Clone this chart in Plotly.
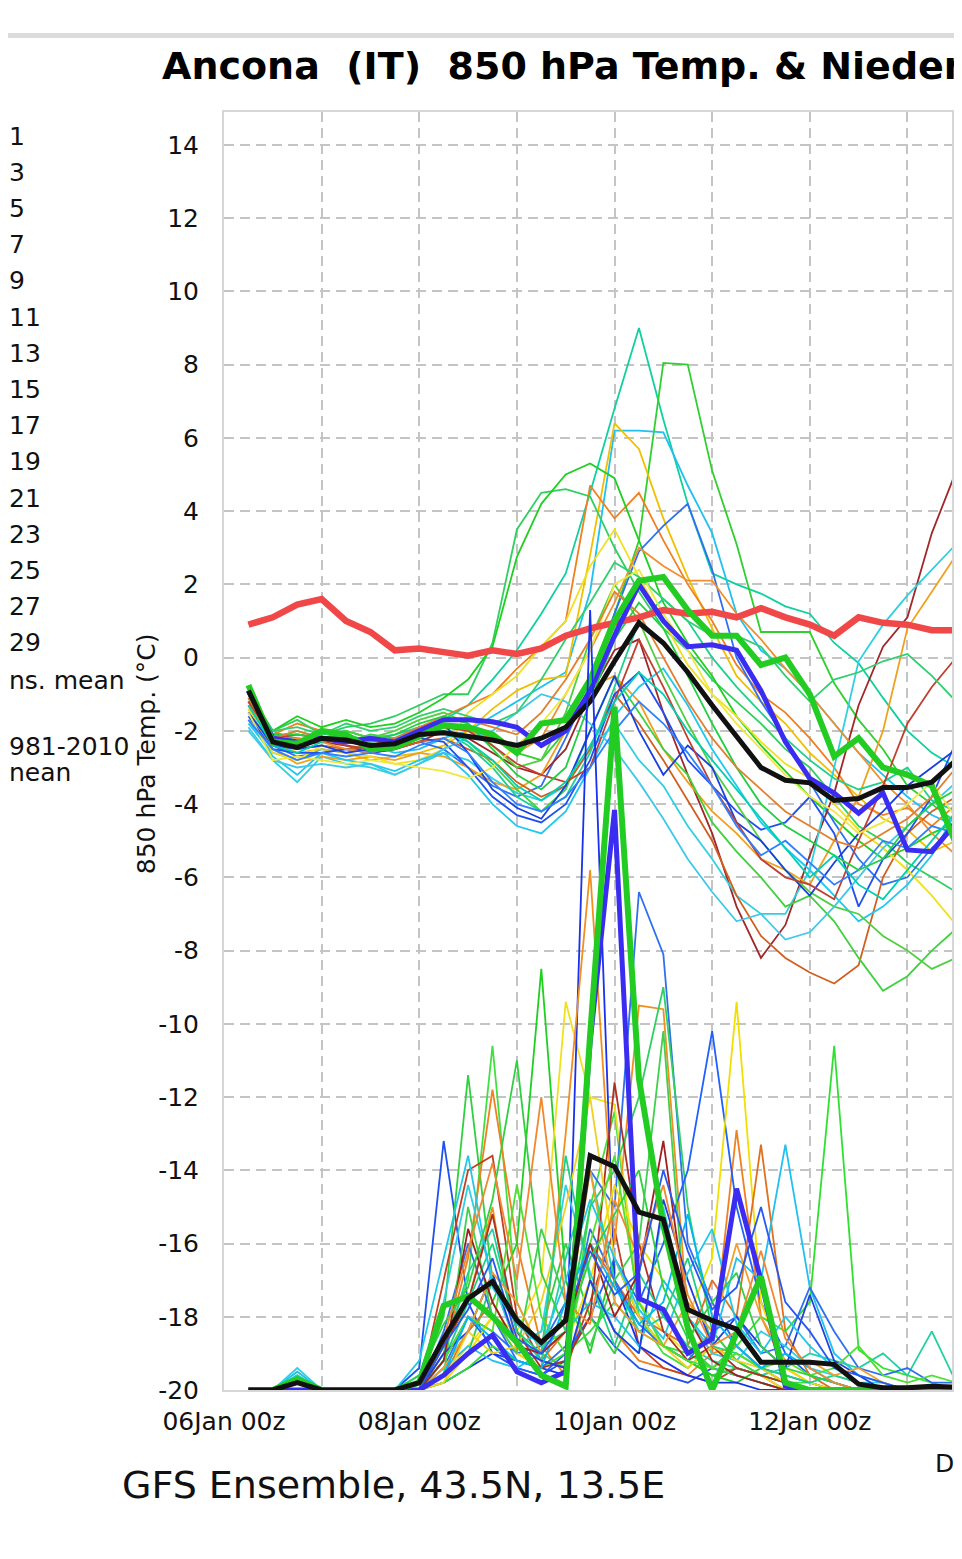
import pandas as pd
import plotly.graph_objects as go

# 6-hourly forecast steps, 06Jan 06z .. 13Jan 18z
times = pd.date_range('2021-01-06 06:00', periods=31, freq='6h')

# 850 hPa temperature (°C)
t_clim = [0.9, 1.1, 1.45, 1.6, 1.0, 0.7, 0.2, 0.25, 0.15, 0.05, 0.2, 0.1, 0.25, 0.6, 0.8, 0.95,
          1.1, 1.3, 1.2, 1.25, 1.1, 1.35, 1.1, 0.9, 0.6, 1.1, 0.95, 0.9, 0.75, 0.75, 0.7]
t_mean = [-0.9, -2.3, -2.45, -2.2, -2.25, -2.4, -2.35, -2.1, -2.05, -2.15, -2.25, -2.4, -2.2, -1.9, -1.2, -0.1,
          0.95, 0.4, -0.4, -1.3, -2.17, -3.0, -3.35, -3.42, -3.9, -3.85, -3.55, -3.55, -3.4, -2.8, -2.3]
t_oper = [-0.9, -2.2, -2.3, -2.2, -2.3, -2.2, -2.3, -2.0, -1.7, -1.7, -1.75, -1.9, -2.4, -2.0, -0.9, 0.6,
          2.0, 1.0, 0.3, 0.35, 0.2, -0.9, -2.3, -3.3, -3.7, -4.25, -3.7, -5.25, -5.3, -4.5, -3.8]
t_ctrl = [-0.75, -2.3, -2.35, -2.0, -2.1, -2.5, -2.45, -2.15, -1.85, -1.9, -2.1, -2.6, -1.8, -1.7, -0.6, 1.0,
          2.1, 2.2, 1.3, 0.6, 0.6, -0.2, 0.0, -1.0, -2.7, -2.2, -3.0, -3.2, -3.5, -5.1, -5.3]

t01 = [-1.2, -2.0, -2.3, -2.1, -2.0, -2.2, -2.1, -1.9, -1.7, -1.3, -0.6, 0.2, 1.2, 2.3, 4.5, 6.8,
       9.0, 6.5, 4.2, 2.3, 2.0, 1.75, 1.4, 1.2, 0.4, -0.15, -1.1, -2.0, -2.6, -3.0, -3.2]
t02 = [-1.0, -2.1, -2.2, -2.3, -2.0, -2.2, -2.3, -2.0, -1.8, -1.9, -2.2, -2.6, -2.8, -2.0, -0.5, 1.2,
       3.2, 8.05, 8.0, 5.1, 3.1, 0.7, 0.7, 0.7, -0.7, -1.7, -2.5, -3.5, -4.0, -4.5, -4.8]
t03 = [-1.8, -2.6, -2.8, -2.5, -2.6, -2.4, -2.6, -2.5, -2.2, -2.0, -1.6, -1.2, -0.8, -0.4, 1.8, 6.2,
       6.2, 6.15, 4.7, 3.4, 1.2, 0.2, -0.3, -1.0, -1.8, -2.6, -3.2, -3.8, -4.3, -4.6, -4.5]
t04 = [-1.3, -2.3, -2.6, -2.5, -2.6, -2.8, -2.7, -2.6, -2.4, -2.0, -1.4, -0.9, -0.6, -0.5, 2.8, 6.4,
       5.7, 3.8, 2.2, 0.8, -0.5, -1.2, -1.8, -2.6, -3.2, -3.8, -4.4, -4.7, -5.3, -5.0, -4.8]
t05 = [-1.0, -2.1, -1.8, -2.0, -2.2, -2.4, -2.3, -1.9, -1.6, -1.3, -1.0, -0.3, 0.3, 1.0, 4.7, 3.8,
       4.5, 3.2, 2.0, 1.0, -0.2, -1.0, -1.5, -2.2, -3.0, -4.0, -4.3, -4.1, -4.6, -4.0, -3.6]
t06 = [-1.1, -2.0, -1.7, -2.1, -1.9, -1.8, -1.6, -1.3, -1.0, -1.0, 0.4, 3.5, 4.5, 4.6, 4.4, 3.0,
       1.8, 0.8, 0.2, -0.6, -1.2, -1.8, -2.5, -3.0, -3.8, -4.6, -5.0, -5.6, -6.0, -6.4, -6.6]
t07 = [-0.9, -2.0, -1.6, -1.9, -1.7, -1.9, -1.8, -1.5, -1.1, -0.6, 0.3, 2.75, 4.2, 5.0, 5.3, 4.9,
       3.2, 1.5, 0.4, -0.5, -1.6, -2.4, -3.1, -3.8, -4.4, -5.0, -5.5, -5.2, -4.8, -4.5, -4.2]
t08 = [-1.5, -2.4, -2.7, -2.6, -2.5, -2.6, -2.5, -2.3, -2.5, -3.0, -3.5, -3.8, -3.5, -2.2, -0.8, 1.2,
       2.9, 3.6, 4.2, 2.4, 0.0, -1.2, -2.2, -3.4, -4.5, -5.5, -6.2, -6.0, -5.2, -4.6, -4.0]
t09 = [-1.2, -2.2, -2.4, -2.3, -2.4, -2.6, -2.5, -2.3, -2.0, -2.2, -2.6, -3.0, -3.2, -2.5, -1.0, 0.2,
       0.5, -1.5, -3.2, -4.8, -6.8, -8.2, -7.3, -5.4, -3.7, -1.3, 0.3, 1.1, 3.4, 5.1, 5.3]
t10 = [-1.9, -2.8, -3.4, -2.7, -2.9, -3.0, -3.2, -2.9, -2.6, -2.8, -3.3, -3.7, -3.9, -3.5, -2.5, -1.8,
       -2.8, -3.5, -4.6, -5.5, -6.5, -7.0, -7.0, -5.8, -3.0, -0.1, 0.9, 1.7, 2.4, 3.1, 3.0]
t11 = [-1.4, -2.5, -2.9, -2.7, -2.8, -2.7, -2.8, -2.6, -2.7, -3.0, -3.4, -3.6, -3.2, -2.0, -0.8, -0.5,
       -1.2, -2.5, -3.4, -4.2, -4.8, -5.5, -5.8, -6.2, -5.0, -3.8, -2.0, 0.8, 1.8, 2.8, 2.9]
t12 = [-1.3, -2.3, -2.5, -2.4, -2.5, -2.4, -2.5, -2.3, -2.2, -2.5, -2.8, -3.4, -3.8, -3.5, -2.5, -1.0,
       -1.8, -2.8, -3.9, -5.0, -6.5, -7.6, -8.2, -8.6, -8.9, -8.4, -6.0, -4.8, -4.2, -3.8, -3.6]
t13 = [-1.1, -2.2, -2.0, -2.2, -2.3, -2.1, -2.2, -2.0, -1.9, -2.3, -2.9, -3.6, -4.2, -3.6, -2.0, -0.5,
       -1.5, -2.5, -3.2, -4.5, -5.3, -6.0, -6.8, -6.5, -7.2, -8.2, -9.1, -8.7, -8.0, -7.4, -7.0]
t14 = [-1.4, -2.6, -2.8, -2.4, -2.6, -2.7, -2.9, -2.8, -2.5, -1.5, -1.0, -0.5, 0.3, 1.0, 2.5, 3.5,
       2.2, 1.0, -0.2, -1.0, -1.6, -2.3, -2.9, -3.3, -4.0, -4.7, -5.2, -5.8, -6.5, -7.3, -7.5]
t15 = [-1.6, -2.5, -2.6, -2.6, -2.5, -2.6, -2.5, -2.2, -2.3, -3.0, -3.8, -4.3, -4.5, -4.0, -2.8, -1.0,
       -0.4, -1.5, -2.8, -3.5, -4.2, -4.7, -4.5, -3.8, -4.8, -6.8, -5.5, -4.8, -3.8, -2.3, -1.8]
t16 = [-1.7, -2.7, -3.2, -2.6, -2.8, -2.9, -3.1, -2.8, -2.6, -3.2, -4.0, -4.6, -4.8, -4.2, -3.0, -1.6,
       -0.8, -0.3, -1.3, -2.5, -3.5, -4.5, -5.2, -5.8, -6.5, -7.2, -6.8, -6.2, -5.4, -4.2, -3.8]
t17 = [-1.0, -2.2, -2.5, -2.2, -2.1, -2.3, -2.2, -1.9, -2.0, -2.4, -3.0, -3.8, -4.2, -3.8, -2.6, -0.8,
       1.0, 1.6, 1.0, 0.0, -0.8, -1.5, -2.2, -2.8, -3.3, -3.6, -3.4, -3.0, -3.9, -4.2, -4.4]
t18 = [-1.2, -2.4, -2.2, -2.3, -2.5, -2.6, -2.4, -2.1, -1.9, -2.0, -2.2, -2.6, -2.2, -1.0, 0.2, 1.5,
       3.0, 2.5, 2.1, 2.1, 1.2, 0.5, -0.3, -1.0, -1.8, -2.6, -3.4, -4.0, -4.8, -5.4, -5.6]
t19 = [-1.3, -2.3, -2.4, -2.2, -2.0, -2.2, -2.0, -1.7, -1.5, -1.8, -2.4, -3.0, -2.8, -1.5, 0.5, 2.0,
       1.0, -0.5, -1.8, -3.0, -4.0, -5.0, -5.8, -6.4, -6.8, -7.0, -7.6, -8.0, -8.5, -8.2, -7.8]
t20 = [-1.5, -2.4, -2.5, -2.4, -2.6, -2.5, -2.4, -2.0, -1.8, -2.6, -3.6, -4.1, -4.4, -3.5, -2.0, -0.5,
       -2.0, -3.2, -2.4, -3.0, -4.5, -5.0, -5.8, -6.5, -5.6, -4.8, -4.2, -3.5, -3.0, -2.5, -2.2]
t21 = [-1.2, -2.2, -2.1, -2.2, -2.4, -2.5, -2.3, -2.1, -1.9, -2.0, -2.4, -2.9, -3.2, -3.4, -3.0, -1.2,
       0.5, -0.8, -2.2, -3.5, -4.5, -5.5, -6.0, -6.2, -6.6, -5.0, -3.5, -1.8, -0.8, 0.0, 0.4]
t22 = [-2.0, -2.8, -3.0, -2.9, -3.0, -2.9, -3.2, -2.9, -2.5, -2.2, -2.0, -1.5, -1.0, -1.2, -1.8, -2.5,
       -3.4, -4.4, -5.5, -6.4, -7.2, -7.0, -7.7, -7.5, -6.8, -6.0, -5.2, -4.6, -4.0, -3.4, -3.0]
t23 = [-1.0, -2.0, -1.9, -2.1, -1.8, -2.0, -1.9, -1.6, -1.4, -1.6, -1.8, -1.5, -0.6, 0.5, 1.5, 2.6,
       2.2, 1.6, 1.0, 0.6, 0.6, 0.3, -0.5, -1.2, -0.6, -0.4, -0.1, 0.1, -0.5, -1.2, -1.5]
t24 = [-1.5, -2.8, -2.7, -2.8, -2.9, -2.8, -2.9, -3.0, -3.1, -3.3, -3.0, -2.4, -1.8, -1.0, 0.2, 2.0,
       2.4, 1.2, 0.2, -1.0, -1.8, -2.5, -3.2, -3.8, -4.2, -4.8, -4.5, -4.0, -3.4, -4.4, -5.0]
t25 = [-1.7, -2.5, -2.8, -2.6, -2.7, -2.6, -2.7, -2.4, -2.2, -2.6, -3.4, -4.0, -4.2, -3.8, -3.0, -2.0,
       -1.2, -1.8, -2.6, -3.5, -4.6, -5.4, -5.0, -5.6, -6.2, -5.8, -5.0, -5.2, -4.6, -4.8, -4.5]
t26 = [-1.1, -2.1, -2.1, -2.2, -2.1, -2.3, -2.1, -1.8, -1.6, -1.8, -2.5, -3.2, -3.6, -3.0, -1.2, 0.5,
       1.5, 0.8, -0.5, -1.8, -3.0, -4.0, -4.6, -5.0, -5.4, -5.8, -5.5, -4.6, -4.0, -3.6, -3.4]
t27 = [-1.3, -2.4, -2.6, -2.3, -2.2, -2.4, -2.3, -2.1, -2.0, -2.3, -2.8, -3.5, -3.9, -3.4, -2.4, -1.2,
       -0.4, -1.0, -2.0, -2.8, -3.6, -4.4, -5.2, -6.0, -5.4, -6.2, -6.6, -5.8, -5.0, -4.2, -3.8]
t28 = [-1.1, -2.2, -2.0, -2.2, -2.3, -2.4, -2.2, -1.9, -1.7, -1.7, -1.9, -2.1, -1.5, -0.6, 0.5, 1.8,
       1.2, 0.0, -1.2, -2.2, -3.0, -3.6, -4.2, -4.6, -5.0, -5.2, -4.8, -4.4, -3.8, -3.0, -2.6]

temp_members = [t01, t02, t03, t04, t05, t06, t07, t08, t09, t10, t11, t12, t13, t14,
                t15, t16, t17, t18, t19, t20, t21, t22, t23, t24, t25, t26, t27, t28]
temp_colors = ['#10d0a0', '#30d030', '#20c0f0', '#f0c000', '#f08020', '#30d060', '#20d020',
               '#3070f0', '#a02828', '#30d0e0', '#f0a020', '#d06020', '#40d040', '#f0e020',
               '#2050f0', '#20c8f0', '#20d090', '#f09030', '#50d040', '#1840e0', '#c04030',
               '#40c8e8', '#30d070', '#f0e840', '#3080ff', '#20d040', '#00d0b0', '#e08030']

# Niederschlag (mm / 6h)
p_mean = [0, 0, 0.1, 0, 0, 0, 0, 0.1, 0.7, 1.25, 1.48, 0.95, 0.65, 0.95, 3.2, 3.05,
          2.43, 2.33, 1.1, 0.95, 0.83, 0.38, 0.38, 0.38, 0.35, 0.08, 0.03, 0.03, 0.05, 0.03, 0.03]
p_ctrl = [0, 0, 0.15, 0, 0, 0, 0, 0.1, 1.15, 1.28, 1.0, 0.65, 0.2, 0.05, 4.85, 9.33,
          4.25, 2.25, 0.85, 0, 0.75, 1.55, 0.1, 0, 0, 0, 0, 0, 0, 0, 0]
p_oper = [0, 0, 0, 0, 0, 0, 0, 0, 0.2, 0.5, 0.75, 0.25, 0.1, 0.25, 4.75, 7.92,
          1.25, 1.1, 0.5, 0.7, 2.75, 1.5, 0.05, 0, 0, 0, 0, 0, 0, 0, 0]

p01 = [0, 0, 0.1, 0, 0, 0, 0, 0.3, 3.4, 1.2, 0.5, 0.3, 0.2, 0.4, 1.0, 0.6,
       0.3, 0.2, 0.1, 0.3, 0.2, 0.1, 0, 0, 0, 0, 0, 0, 0, 0, 0]
p02 = [0, 0, 0.2, 0, 0, 0, 0, 0.1, 1.0, 4.3, 1.5, 0.6, 0.8, 2.0, 1.0, 0.5,
       1.2, 0.6, 0.4, 0.2, 0.3, 0.2, 0.1, 0, 0, 0, 0, 0, 0, 0, 0]
p03 = [0, 0, 0.1, 0, 0, 0, 0, 0, 0.6, 1.5, 4.7, 1.2, 0.5, 0.3, 2.5, 3.8,
       1.0, 0.5, 0.3, 0.6, 0.4, 0.2, 0.1, 0.1, 0, 0, 0, 0, 0, 0, 0]
p04 = [0, 0, 0, 0, 0, 0, 0, 0, 0.5, 1.8, 4.1, 2.0, 0.6, 0.2, 1.5, 0.8,
       0.4, 0.3, 0.2, 0.5, 3.55, 1.0, 0.3, 0.1, 0, 0, 0, 0, 0, 0, 0]
p05 = [0, 0, 0, 0, 0, 0, 0, 0, 1.5, 3.0, 3.2, 1.0, 0.4, 0.3, 1.2, 2.2,
       0.6, 0.3, 0.2, 0.1, 0.3, 0.2, 0, 0, 0, 0, 0, 0, 0, 0, 0]
p06 = [0, 0, 0, 0, 0, 0, 0, 0, 0.3, 0.8, 1.2, 2.0, 5.75, 1.5, 0.5, 1.8,
       1.0, 0.6, 0.4, 0.2, 0.1, 0.3, 0.1, 0, 0, 0, 0, 0, 0, 0, 0]
p07 = [0, 0, 0, 0, 0, 0, 0, 0, 0.2, 0.6, 1.0, 0.8, 1.5, 5.3, 4.0, 3.9,
       1.2, 0.8, 0.5, 0.8, 0.4, 0.2, 0, 0, 0, 0, 0, 0, 0, 0, 0]
p08 = [0, 0, 0, 0, 0, 0, 0, 0, 0.1, 0.3, 0.5, 0.4, 0.3, 0.2, 10.65, 1.5,
       0.6, 0.4, 0.2, 0.1, 0.1, 0, 0, 0, 0, 0, 0, 0, 0, 0, 0]
p09 = [0, 0, 0, 0, 0, 0, 0, 0.1, 0.6, 1.2, 2.5, 0.5, 0.3, 3.5, 7.1, 2.0,
       5.25, 5.2, 1.0, 0.5, 0.6, 0.3, 0.1, 0, 0, 0, 0, 0, 0, 0, 0]
p10 = [0, 0, 0, 0, 0, 0, 0, 0, 0.3, 1.0, 0.8, 0.5, 0.6, 1.2, 3.0, 2.5,
       6.8, 5.95, 2.0, 1.2, 0.6, 0.3, 0.2, 0.1, 0, 0, 0, 0, 0, 0, 0]
p11 = [0, 0, 0.1, 0, 0, 0, 0, 0, 0.2, 0.5, 1.5, 1.0, 0.6, 0.8, 2.5, 3.0,
       4.0, 5.5, 2.5, 0.8, 0.4, 0.2, 0.1, 0, 0, 0, 0, 0, 0, 0, 0]
p12 = [0, 0, 0, 0, 0, 0, 0, 0, 0.4, 1.0, 0.6, 0.3, 0.2, 0.5, 1.0, 1.8,
       1.2, 2.0, 3.0, 4.9, 2.5, 1.2, 0.5, 0.2, 0.1, 0, 0, 0, 0, 0, 0]
p13 = [0, 0, 0, 0, 0, 0, 0, 0, 0.1, 0.5, 1.0, 0.5, 0.3, 0.6, 1.5, 2.8,
       2.0, 1.5, 1.0, 1.8, 5.3, 1.2, 0.3, 0.1, 0, 0, 0, 0, 0, 0, 0]
p14 = [0, 0, 0, 0, 0, 0, 0, 0, 0.2, 0.8, 1.2, 0.6, 0.4, 0.8, 2.0, 1.5,
       1.0, 0.8, 0.6, 1.5, 1.0, 3.35, 0.8, 0.2, 0, 0, 0, 0, 0, 0, 0]
p15 = [0, 0, 0.25, 0, 0, 0, 0, 0, 0.3, 0.6, 0.4, 0.3, 0.5, 0.8, 1.2, 1.0,
       0.6, 1.5, 1.0, 0.6, 1.8, 1.5, 3.35, 1.4, 0.5, 0.2, 0.1, 0, 0, 0, 0]
p16 = [0, 0, 0, 0, 0, 0, 0, 0, 0.1, 0.3, 0.6, 0.4, 0.3, 0.5, 0.8, 1.2,
       0.8, 0.6, 0.5, 0.3, 0.6, 1.0, 0.8, 1.2, 4.7, 0.55, 0.3, 0.2, 0.1, 0, 0]
p17 = [0, 0, 0.1, 0, 0, 0, 0, 0, 0.5, 1.6, 2.2, 0.8, 0.4, 1.8, 3.0, 1.5,
       0.8, 1.0, 0.6, 0.4, 0.3, 0.2, 0.3, 0.5, 0.4, 0.3, 0.5, 0.2, 0.8, 0.1, 0]
p18 = [0, 0, 0, 0, 0, 0, 0, 0, 0.8, 2.0, 1.0, 0.4, 0.3, 0.6, 2.2, 1.5,
       0.9, 0.6, 0.4, 0.8, 1.0, 0.5, 0.6, 1.4, 0.8, 0.3, 0.2, 0.3, 0.1, 0.1, 0]
p19 = [0, 0, 0.3, 0, 0, 0, 0, 0.2, 1.2, 2.8, 1.5, 0.6, 0.8, 2.8, 1.6, 0.8,
       0.5, 2.5, 1.0, 0.5, 0.4, 0.8, 0.6, 0.3, 0.2, 0.1, 0.1, 0, 0, 0, 0]
p20 = [0, 0, 0, 0, 0, 0, 0, 0, 0.6, 1.2, 2.4, 0.8, 0.3, 0.4, 1.0, 4.2,
       2.0, 0.8, 0.4, 0.6, 0.3, 0.2, 0.1, 0, 0, 0, 0, 0, 0, 0, 0]
p21 = [0, 0, 0, 0, 0, 0, 0, 0, 0.2, 2.5, 1.0, 0.5, 2.2, 1.2, 0.6, 1.5,
       2.0, 4.9, 0.6, 0.3, 0.2, 0.1, 0, 0, 0, 0, 0, 0, 0, 0, 0]
p22 = [0, 0, 0, 0, 0, 0, 0, 0, 0.1, 0.8, 0.5, 0.6, 1.2, 2.5, 4.0, 1.8,
       1.0, 0.6, 0.3, 0.6, 0.4, 0.3, 0.1, 0, 0, 0, 0, 0, 0, 0, 0]
p23 = [0, 0, 0, 0, 0, 0, 0, 0, 0.4, 1.2, 2.0, 0.8, 0.5, 3.2, 1.5, 0.6,
       1.6, 1.0, 1.8, 0.6, 0.5, 0.3, 0.2, 0.1, 0.2, 0.1, 0, 0, 0, 0, 0]
p24 = [0, 0, 0, 0, 0, 0, 0, 0, 0.5, 0.8, 1.6, 0.6, 0.4, 0.3, 1.5, 0.8,
       0.5, 2.6, 1.5, 0.6, 1.0, 0.6, 0.3, 1.3, 0.4, 0.2, 0, 0, 0, 0, 0]
p25 = [0, 0, 0, 0, 0, 0, 0, 0, 0.3, 0.8, 1.6, 1.2, 0.5, 0.8, 3.0, 1.2,
       0.8, 0.6, 1.2, 0.8, 2.0, 1.0, 0.4, 0.4, 0.2, 0.3, 0.1, 0, 0, 0, 0]
p26 = [0, 0, 0.1, 0, 0, 0, 0, 0, 0.4, 1.0, 0.8, 2.8, 1.0, 0.5, 2.0, 3.2,
       1.2, 0.6, 0.4, 0.3, 0.5, 0.3, 0.4, 0.2, 0.3, 0.6, 0.2, 0.1, 0.2, 0.1, 0]
p27 = [0, 0, 0, 0, 0, 0, 0, 0, 0.2, 1.0, 0.7, 0.4, 0.3, 1.2, 2.0, 1.4,
       0.9, 1.2, 2.4, 1.0, 0.6, 0.3, 0.5, 0.3, 0.1, 0, 0, 0, 0, 0, 0]
p28 = [0, 0, 0, 0, 0, 0, 0, 0, 0.4, 2.2, 1.2, 0.6, 0.5, 0.8, 2.0, 1.0,
       1.6, 3.4, 1.0, 0.4, 0.2, 0.1, 0, 0, 0, 0, 0, 0, 0, 0, 0]
p29 = [0, 0, 0.2, 0, 0, 0, 0, 0.4, 1.8, 3.2, 1.4, 0.9, 0.6, 1.5, 2.6, 1.8,
       1.1, 0.7, 1.6, 2.2, 0.9, 0.5, 1.0, 0.6, 0.3, 0.1, 0, 0, 0, 0, 0]
p30 = [0, 0, 0, 0, 0, 0, 0, 0.2, 0.9, 1.4, 2.6, 4.5, 1.6, 0.8, 1.8, 2.4,
       3.0, 1.4, 0.7, 1.2, 1.6, 0.6, 0.3, 0.2, 0.1, 0, 0, 0, 0, 0, 0]
p31 = [0, 0, 0, 0, 0, 0, 0, 0.1, 0.7, 1.9, 3.1, 1.5, 4.0, 1.2, 0.9, 2.6,
       1.8, 2.8, 1.3, 0.6, 0.8, 1.9, 0.7, 0.3, 0.1, 0, 0, 0, 0, 0, 0]
p32 = [0, 0, 0.1, 0, 0, 0, 0, 0, 0.6, 1.1, 1.8, 0.7, 0.5, 1.0, 1.9, 1.3,
       1.6, 3.0, 1.9, 1.1, 1.4, 2.5, 1.2, 0.8, 0.3, 0.2, 0.1, 0, 0, 0, 0]

precip_members = [p01, p02, p03, p04, p05, p06, p07, p08, p09, p10, p11, p12, p13, p14, p15, p16,
                  p17, p18, p19, p20, p21, p22, p23, p24, p25, p26, p27, p28, p29, p30, p31, p32]
precip_colors = ['#2050f0', '#30d040', '#40e040', '#f08020', '#c04020', '#20d020', '#f0e020',
                 '#1830f0', '#f09020', '#3070f0', '#30d060', '#2060ff', '#f0e000', '#e07020',
                 '#20c0f0', '#30e030', '#20d0a0', '#3070f0', '#30d0e0', '#b03020', '#40d050',
                 '#f0d020', '#20d080', '#2040e0', '#f0a030', '#50e030', '#00b8f0', '#a02020',
                 '#20c8e8', '#30d040', '#f08830', '#2858f0']

for s in temp_members + precip_members + [t_clim, t_mean, t_oper, t_ctrl, p_mean, p_ctrl, p_oper]:
    assert len(s) == len(times)

day_ticks = pd.date_range('2021-01-06', '2021-01-13', freq='D')
day_labels = ['06Jan 00z', '', '08Jan 00z', '', '10Jan 00z', '', '12Jan 00z', '']
temp_ticks = list(range(-20, 15, 2))
temp_tick_labels = [str(v) for v in temp_ticks]
legend_numbers = ['1', '3', '5', '7', '9', '11', '13', '15', '17', '19', '21', '23', '25', '27', '29']

# the page has an 8px body margin; plot area spans 224..954 x 112..1390 on the page
W, H = 946, 1543
ML, MT, MB = 216, 104, 161
PW, PH = W - ML, H - MT - MB
DAY_PX = 97.9


def px(xp):
    return (xp - 8 - ML) / PW


def py(yp):
    return (H - MB - (yp - 8)) / PH


fig = go.Figure()

for vals, col in zip(temp_members, temp_colors):
    fig.add_trace(go.Scatter(x=times, y=vals, mode='lines', line=dict(color=col, width=1.8)))
for vals, col in zip(precip_members, precip_colors):
    fig.add_trace(go.Scatter(x=times, y=vals, yaxis='y2', mode='lines', line=dict(color=col, width=1.8)))

fig.add_trace(go.Scatter(x=times, y=t_clim, mode='lines', line=dict(color='#f04848', width=6.5)))
fig.add_trace(go.Scatter(x=times, y=t_oper, mode='lines', line=dict(color='#3a2cf0', width=5)))
fig.add_trace(go.Scatter(x=times, y=t_ctrl, mode='lines', line=dict(color='#22cc22', width=6)))
fig.add_trace(go.Scatter(x=times, y=t_mean, mode='lines', line=dict(color='#111111', width=5)))
fig.add_trace(go.Scatter(x=times, y=p_oper, yaxis='y2', mode='lines', line=dict(color='#3a2cf0', width=5)))
fig.add_trace(go.Scatter(x=times, y=p_ctrl, yaxis='y2', mode='lines', line=dict(color='#22cc22', width=6)))
fig.add_trace(go.Scatter(x=times, y=p_mean, yaxis='y2', mode='lines', line=dict(color='#111111', width=5)))

grid = dict(showgrid=True, gridcolor='#c4c4c4', gridwidth=1.5, griddash='10px,6px',
            showline=True, mirror=True, linecolor='#d6d6d6', linewidth=2, zeroline=False,
            ticks='outside', tickcolor='rgba(0,0,0,0)', tickfont=dict(size=25, color='#111'))

txt = dict(size=25, color='#111')
annotations = [
    dict(text='<b>Ancona\u00a0\u00a0(IT)\u00a0\u00a0850 hPa Temp. &amp; Niederschlag</b>',
         x=px(160), y=py(66), xanchor='left', yanchor='middle', font=dict(size=38, color='#000')),
    dict(text='850 hPa Temp. (°C)', x=px(147), y=py(754), textangle=-90,
         xanchor='center', yanchor='middle', font=txt),
    dict(text='GFS Ensemble, 43.5N, 13.5E', x=px(120), y=py(1485), xanchor='left', yanchor='middle',
         font=dict(size=38, color='#111')),
    dict(text='Datum', x=px(935), y=py(1463), xanchor='left', yanchor='middle', font=txt),
    dict(text='14Jan 00z', xref='x', x=pd.Timestamp('2021-01-14'), y=py(1422), xanchor='center',
         yanchor='middle', font=txt),
    dict(text='ns. mean', x=px(6), y=py(680), xanchor='left', yanchor='middle', font=txt),
    dict(text='981-2010', x=px(6), y=py(746), xanchor='left', yanchor='middle', font=txt),
    dict(text='nean', x=px(6), y=py(772), xanchor='left', yanchor='middle', font=txt),
]
for k, lab in enumerate(legend_numbers):
    annotations.append(dict(text=lab, x=px(6), y=py(136 + 36.2 * k), xanchor='left', yanchor='middle', font=txt))
for a in annotations:
    a.setdefault('xref', 'paper')
    a['yref'] = 'paper'
    a['showarrow'] = False

x_start = pd.Timestamp('2021-01-06')
fig.update_layout(
    width=W, height=H,
    margin=dict(l=ML, r=0, t=MT, b=MB, pad=0),
    paper_bgcolor='white', plot_bgcolor='white',
    font=dict(family='DejaVu Sans', size=25, color='#111'),
    showlegend=False, hovermode=False,
    xaxis=dict(range=[x_start, x_start + pd.Timedelta(days=PW / DAY_PX)],
               tickvals=day_ticks, ticktext=day_labels, ticklen=8, **grid),
    yaxis=dict(range=[-20, 14.9], tickvals=temp_ticks, ticktext=temp_tick_labels, ticklen=18, **grid),
    yaxis2=dict(range=[0, 17.45], overlaying='y', side='right', showgrid=False, zeroline=False,
                showticklabels=False, showline=False),
    annotations=annotations,
    shapes=[dict(type='rect', xref='paper', yref='paper', x0=-0.5, x1=1.5, y0=py(38), y1=py(33),
                 fillcolor='#dcdcdc', line=dict(width=0), layer='below')],
)

fig.write_html("out.html")
